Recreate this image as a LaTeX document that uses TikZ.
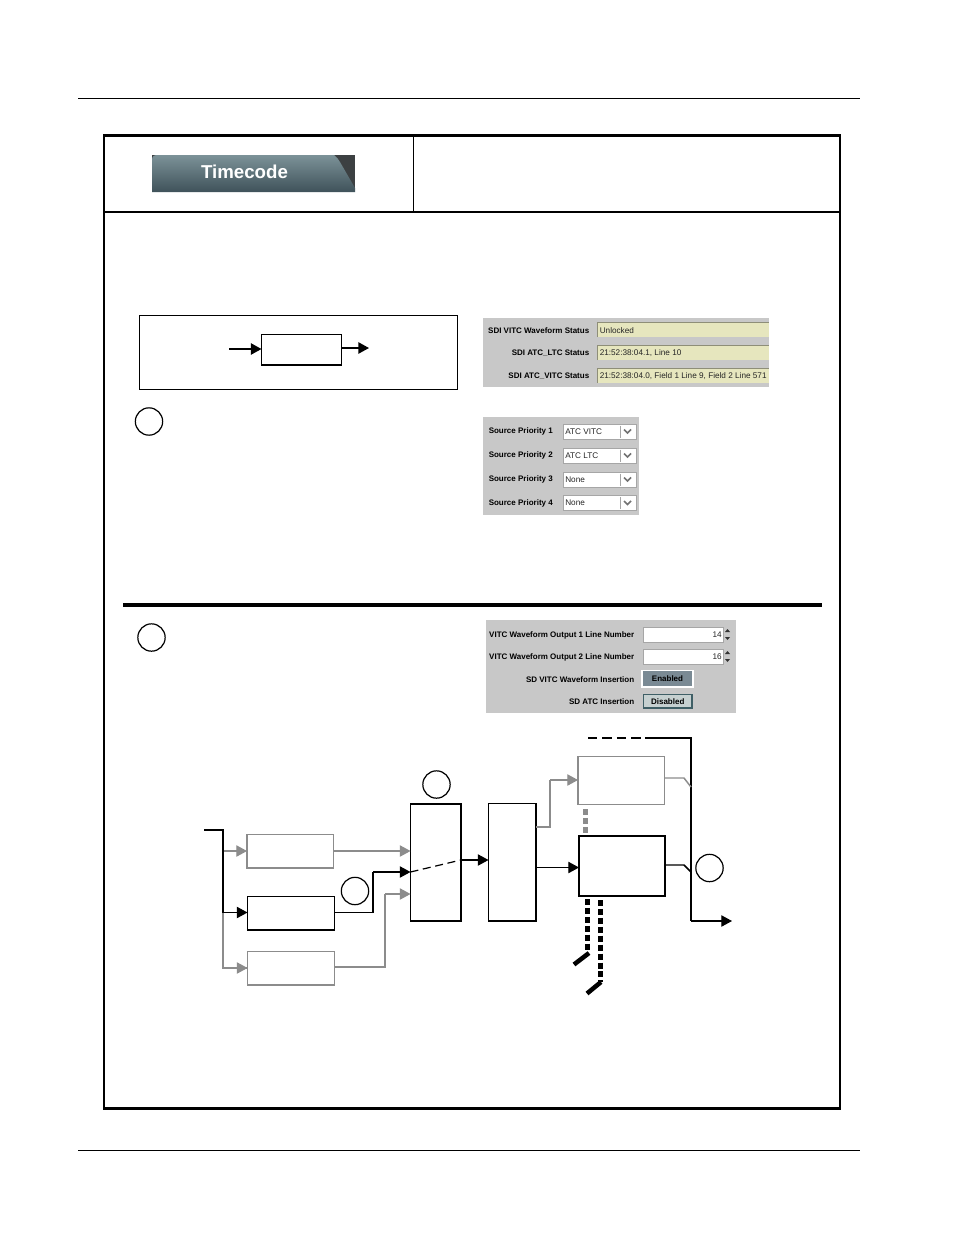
\documentclass[tikz,border=0pt]{standalone}
\usepackage{fontspec}
\setmainfont{Liberation Sans}
\usetikzlibrary{arrows.meta}
\definecolor{panelgray}{HTML}{C8C8C8}
\definecolor{fieldyel}{HTML}{E6E6BE}
\definecolor{fieldedge}{HTML}{8E8E78}
\definecolor{muted}{HTML}{8C8C8C}
\definecolor{tabdark}{HTML}{3C4042}
\definecolor{tabtop}{HTML}{7C9298}
\definecolor{tabbot}{HTML}{3F525A}
\definecolor{btnon}{HTML}{7A8A94}
\definecolor{btnoff}{HTML}{C6D0D0}
\definecolor{btnedge}{HTML}{3F5F66}
\newcommand\pxbox[7]{%
  \pgfmathsetmacro\wpx{(#5-#3)*0.75}%
  \pgfmathsetmacro\hpx{(#6-#4)*0.75}%
  \node[pxnode,#1,minimum width=\wpx pt,minimum height=\hpx pt] (#2) at (#3,#4) {#7};}
\tikzset{
  x=0.75pt,y=-0.75pt,
  pxnode/.style={anchor=north west,inner sep=0pt,outer sep=0pt,rectangle},
  blk/.style={draw=black,fill=white,line width=1.5pt},
  blkthin/.style={draw=black,fill=white,line width=1.1pt},
  gry/.style={draw=muted,fill=white,line width=1.1pt},
  panel/.style={fill=panelgray},
  num/.style={circle,draw=black,fill=white,line width=0.9pt,minimum size=20.5pt,inner sep=0pt},
  lead/.style={-{Triangle[length=8pt,width=8.5pt]},line width=0.9pt,black},
  leadg/.style={-{Triangle[length=8pt,width=8.5pt]},line width=0.9pt,muted},
  wire/.style={line width=0.9pt,black},
  wireg/.style={line width=0.9pt,muted},
  bus/.style={line width=1.5pt,black},
  busg/.style={line width=1.5pt,muted},
  dots/.style={line width=3.8pt,dash pattern=on 4.5pt off 2.2pt},
  lab/.style={font=\fontsize{6pt}{7pt}\selectfont\bfseries,text=black,inner sep=0pt},
  val/.style={font=\fontsize{6.15pt}{7pt}\selectfont,text=black!85,inner sep=0pt,anchor=west},
  white field/.style={fill=white,draw=gray!70,line width=0.5pt},
}
\begin{document}
\begin{tikzpicture}
\useasboundingbox (0,0) rectangle (954,1235);
\fill[white] (0,0) rectangle (954,1235);
% page rules
\coordinate (ruleTopL) at (78,98.5); \coordinate (ruleTopR) at (860,98.5);
\coordinate (ruleBotL) at (78,1150); \coordinate (ruleBotR) at (860,1150);
\draw[line width=0.6pt] (ruleTopL) -- (ruleTopR);
\draw[line width=0.6pt] (ruleBotL) -- (ruleBotR);
% frame
\pxbox{draw=black,line width=1.9pt}{frame}{104}{135.5}{840}{1108.5}{}
\coordinate (hL) at (104,212); \coordinate (hR) at (840,212);
\coordinate (vT) at (413.5,135.5); \coordinate (vB) at (413.5,212);
\draw[line width=1.9pt] (hL) -- (hR);
\draw[line width=0.8pt] (vT) -- (vB);
\coordinate (sepL) at (123,605); \coordinate (sepR) at (822,605);
\draw[line width=2.7pt] (sepL) -- (sepR);
% tab
\fill[tabdark] (152,155) rectangle (355,192);
\shade[top color=tabtop,bottom color=tabbot]
  (152,192) -- (152,160) .. controls (152,156) and (154,155) .. (158,155) -- (334,155)
  .. controls (337,157) and (338,159) .. (340,162) -- (355,188) -- (355,192) -- cycle;
\node[inner sep=0pt,text=white,font=\fontsize{14pt}{16pt}\selectfont\bfseries] (tabtext) at (244.5,172) {Timecode};
% small signal diagram
\pxbox{draw=black,line width=0.75pt}{sigframe}{139}{315.5}{457}{389}{}
\pxbox{blk,line width=1.2pt}{sigbox}{261.5}{334.5}{341.5}{365}{}
\coordinate (sigin) at (229,349); \coordinate (sigout) at (369,348);
\draw[lead,line width=1.2pt] (sigin) -- (sigbox.west |- sigin);
\draw[lead,line width=1.2pt] (sigbox.east |- sigout) -- (sigout);
\node[num] (n1) at (149,421.5) {};
\node[num] (n2) at (151.5,637.5) {};
% status panel
\pxbox{panel}{statpanel}{483}{318}{769}{387}{}
\foreach \nm/\yt/\lbl/\txt in {a/322/SDI VITC Waveform Status/Unlocked,
  b/345/SDI ATC\_LTC Status/{21:52:38:04.1, Line 10},
  c/368/SDI ATC\_VITC Status/{21:52:38:04.0, Field 1 Line 9, Field 2 Line 571}}{
  \pgfmathsetmacro\yb{\yt+15}
  \pgfmathsetmacro\ym{\yt+8.3}
  \pxbox{fill=fieldyel}{stat\nm}{597.5}{\yt}{769}{\yb}{}
  \draw[fieldedge,line width=0.7pt] (stat\nm.south west) -- (stat\nm.north west) -- (stat\nm.north east);
  \node[lab,anchor=east] (statlab\nm) at (589.5,\ym) {\lbl};
  \node[val] (statval\nm) at (599.5,\ym) {\txt};
}
% source priority panel
\pxbox{panel}{srcpanel}{483}{417}{639}{515}{}
\foreach \i/\yc/\v in {1/431.5/ATC VITC,2/455.5/ATC LTC,3/479.5/None,4/503/None}{
  \pgfmathsetmacro\yt{\yc-7.5}
  \pgfmathsetmacro\yb{\yc+7.5}
  \pxbox{white field}{combo\i}{563}{\yt}{636}{\yb}{}
  \node[lab,anchor=west] (srclab\i) at (488.5,\yc) {Source Priority \i};
  \node[val] (srcval\i) at (565,\yc) {\v};
  \draw[gray!70,line width=0.4pt] (620,\yc-6) -- (620,\yc+6);
  \draw[gray!90!black,line width=1.1pt] (624,\yc-2) -- (627.5,\yc+1.5) -- (631,\yc-2);
}
% VITC panel
\pxbox{panel}{vitcpanel}{486}{620}{736}{713}{}
\foreach \i/\yt/\v in {1/627/14,2/649/16}{
  \pgfmathsetmacro\yb{\yt+15}
  \pgfmathsetmacro\ym{\yt+8}
  \pxbox{white field}{spin\i}{643.5}{\yt}{723.5}{\yb}{}
  \node[lab,anchor=east] (vitclab\i) at (634.5,\ym) {VITC Waveform Output \i{} Line Number};
  \node[val,anchor=east] (vitcval\i) at (722,\ym) {\v};
  \fill[black!80] (725,\yt+5) -- (727.5,\yt+2) -- (730,\yt+5) -- cycle;
  \fill[black!80] (725,\yt+10) -- (727.5,\yt+13) -- (730,\yt+10) -- cycle;
}
\node[lab,anchor=east] (ins1) at (634.5,679.5) {SD VITC Waveform Insertion};
\node[lab,anchor=east] (ins2) at (634.5,702) {SD ATC Insertion};
\pxbox{fill=btnon,draw=white,line width=0.8pt,font=\fontsize{6pt}{7pt}\selectfont\bfseries}{btnen}{642}{670.5}{693}{687}{Enabled}
\pxbox{fill=btnoff,draw=btnedge,line width=1pt,font=\fontsize{6pt}{7pt}\selectfont\bfseries}{btndis}{643.5}{694.5}{692}{708}{Disabled}
% signal flow: input side
\pxbox{gry}{boxA}{247}{834.5}{333.5}{868}{}
\pxbox{blkthin}{boxB}{247.5}{896.5}{334.5}{930}{}
\pxbox{gry}{boxC}{247.5}{951.5}{334.5}{985}{}
\pxbox{blkthin}{mux}{410.5}{804}{461}{921}{}
\pxbox{blkthin}{proc}{488.5}{803.5}{536}{921}{}
\pxbox{gry}{boxE}{578}{756.5}{664.5}{804.5}{}
\pxbox{blk}{boxF}{579}{836}{665}{896}{}
\node[num] (n3) at (436.5,784.5) {};
\node[num] (n4) at (355,891) {};
\node[num] (n5) at (709.5,868) {};
\coordinate (trunkin) at (204,830);
\coordinate (trunkbend) at (223,830);
\coordinate (tA) at (223,851);
\coordinate (tB) at (223,912.5);
\coordinate (tC) at (223,968);
\draw[busg] (tB) -- (tC) -- (boxC.west |- tC);
\draw[leadg] (tA) -- (boxA.west |- tA);
\draw[leadg] (tC) -- (boxC.west |- tC);
\draw[bus] (trunkin) -- (trunkbend) -- (tB);
\draw[lead] (tB) -- (boxB.west |- tB);
\coordinate (muxA) at (410.5,851);
\coordinate (muxB) at (410.5,872);
\coordinate (muxC) at (410.5,894);
\coordinate (muxO) at (461,860);
\draw[leadg] (boxA.east |- muxA) -- (muxA);
\coordinate (bOut) at (334.5,912.5);
\draw[wire] (bOut) -- (373,912.5);
\draw[bus] (373,913) -- (373,872);
\draw[lead] (373,872) -- (muxB);
\coordinate (cOut) at (334.5,967);
\draw[wireg] (cOut) -- (385,967) -- (385,894);
\draw[leadg] (385,894) -- (muxC);
\draw[wire,dash pattern=on 6pt off 3.5pt] (muxB) -- (muxO);
\coordinate (procIn) at (488.5,860);
\draw[lead] (muxO) -- (procIn);
% processor outputs
\coordinate (pE) at (536,827);
\coordinate (eIn) at (578,780);
\draw[wireg] (pE) -- (550,827) -- (550,780);
\draw[leadg] (550,780) -- (eIn);
\coordinate (fIn) at (579,867.5);
\draw[lead] (proc.east |- fIn) -- (fIn);
% output bus
\coordinate (busDash) at (588,738);
\coordinate (busSolid) at (645,738);
\coordinate (busCorner) at (691,738);
\coordinate (busLow) at (691,921);
\coordinate (busOut) at (732,921);
\draw[line width=1.4pt,dash pattern=on 7pt off 3.8pt] (busDash) -- (busSolid);
\draw[bus] (busSolid) -- (busCorner) -- (busLow);
\draw[lead] (busLow) -- (busOut);
\coordinate (eOut) at (664.5,778);
\coordinate (eJoin) at (691,787);
\draw[busg,line width=1.1pt] (eOut) -- (684,778) -- (eJoin);
\coordinate (fOut) at (665,865);
\coordinate (fJoin) at (691,872);
\draw[bus,line width=1.1pt] (fOut) -- (684,865) -- (fJoin);
% dotted links
\coordinate (gdT) at (585.5,809); \coordinate (gdB) at (585.5,834);
\draw[dots,muted] (gdT) -- (gdB);
\coordinate (d1T) at (587.5,899); \coordinate (d1B) at (587.5,950);
\coordinate (d2T) at (600.5,900); \coordinate (d2B) at (600.5,982);
\draw[dots,black] (d1T) -- (d1B);
\draw[dots,black] (d2T) -- (d2B);
\coordinate (s1a) at (574,964.5); \coordinate (s1b) at (589,953);
\coordinate (s2a) at (587,993.5); \coordinate (s2b) at (601,982);
\draw[line width=3.4pt] (s1a) -- (s1b);
\draw[line width=3.4pt] (s2a) -- (s2b);
\end{tikzpicture}
\end{document}
